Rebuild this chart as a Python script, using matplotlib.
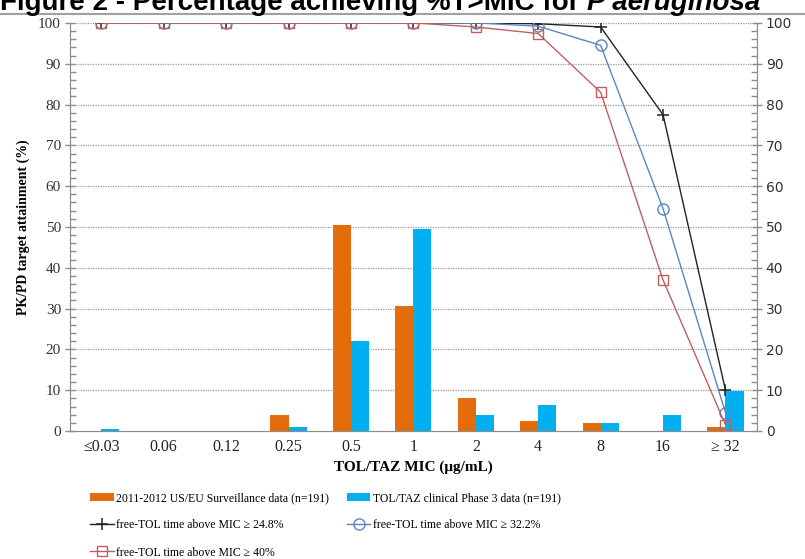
import matplotlib
matplotlib.use("Agg")
import matplotlib.pyplot as plt
from matplotlib.ticker import MultipleLocator, FixedLocator
import numpy as np

# MIC categories (ug/mL)
mic_labels = ["\u22640.03", "0.06", "0.12", "0.25", "0.5", "1", "2", "4", "8", "16", "\u2265 32"]

# distribution of pathogens (%)
surveillance = [0, 0, 0, 4, 50.6, 30.6, 8.2, 2.5, 2.0, 0, 1.0]
phase3 = [0.5, 0, 0, 1.0, 22.0, 49.6, 4.0, 6.3, 2.0, 4.0, 9.7]

# PK/PD target attainment (%)
tam_248 = [100, 100, 100, 100, 100, 100, 100, 99.8, 99.0, 77.5, 10.0]
tam_322 = [100, 100, 100, 100, 100, 100, 100, 99.2, 94.5, 54.5, 4.5]
tam_40 = [100, 100, 100, 100, 100, 100, 99.0, 97.4, 83.0, 37.0, 1.5]

serif = "Liberation Serif"
grey = "#8c8c8c"

fig = plt.figure(figsize=(8.05, 5.59), dpi=100)
ax = fig.add_axes([0.087, 0.229, 0.853, 0.730])
ax2 = ax.twinx()

x = np.arange(len(mic_labels))
w = 0.29
b1 = ax.bar(x - w / 2, surveillance, w, color="#E46C0A", zorder=2,
            label="2011-2012 US/EU Surveillance data (n=191)")
b2 = ax.bar(x + w / 2, phase3, w, color="#00B0F0", zorder=2,
            label="TOL/TAZ clinical Phase 3 data (n=191)")

l1, = ax.plot(x, tam_248, color="#222222", lw=1.0, marker="+", ms=8, mew=1.1,
              zorder=4, label="free-TOL time above MIC \u2265 24.8%")
l2, = ax.plot(x, tam_322, color="#5b86c4", lw=1.0, marker="o", ms=8, mfc="none",
              mew=1.0, zorder=4, label="free-TOL time above MIC \u2265 32.2%")
l3, = ax.plot(x, tam_40, color="#c0605d", lw=1.0, marker="s", ms=7, mfc="none",
              mew=1.0, zorder=4, label="free-TOL time above MIC \u2265 40%")

for a in (ax, ax2):
    a.set_ylim(0, 100)
    a.set_xlim(-0.5, 10.5)
    a.yaxis.set_major_locator(MultipleLocator(10))
    a.yaxis.set_minor_locator(MultipleLocator(2))
    a.tick_params(axis="y", which="major", direction="inout", length=7, color=grey, width=1)
    a.tick_params(axis="y", which="minor", direction="in", length=4, color=grey, width=1)
    for s in a.spines.values():
        s.set_color(grey)
    a.spines["top"].set_visible(False)

ax.tick_params(axis="y", labelsize=11, labelcolor="#333333", pad=3)
for t in ax.get_yticklabels():
    t.set_fontfamily(serif)
ax2.tick_params(axis="y", labelsize=10, labelcolor="#333333", pad=3)

for yv in range(10, 101, 10):
    ax.axhline(yv, color="#999999", lw=0.9, ls=(0, (1, 1)), zorder=1)

ax.xaxis.set_major_locator(FixedLocator(np.arange(-0.5, 11, 1)))
ax.xaxis.set_minor_locator(FixedLocator(x))
ax.set_xticklabels([""] * 12)
ax.set_xticklabels(mic_labels, minor=True, fontfamily=serif, fontsize=11.5, color="#222222")
ax.tick_params(axis="x", which="major", direction="out", length=5, color=grey, width=1)
ax.tick_params(axis="x", which="minor", length=0, pad=6)
ax2.set_xticks([])

ax.set_xlabel("TOL/TAZ MIC (\u03bcg/mL)", fontfamily=serif, fontweight="bold", fontsize=11, labelpad=4)
ax.set_ylabel("PK/PD target attainment (%)", fontfamily=serif, fontweight="bold", fontsize=10, labelpad=6)
ax2.set_ylabel("Distribution of pathogens (%)", fontfamily=serif, fontweight="bold", fontsize=10,
               rotation=90, labelpad=18)

# title, mostly cut off at the top edge
title = fig.text(0.0, 0.983, "Figure 2 - Percentage achieving %T>MIC for ", fontfamily="Liberation Sans",
                 fontweight="bold", fontsize=20, va="baseline", ha="left")
fig.canvas.draw()
bb = title.get_window_extent()
fig.text(bb.x1 / fig.bbox.width, 0.983, "P aeruginosa", fontfamily="Liberation Sans",
         fontweight="bold", fontstyle="italic", fontsize=20, va="baseline", ha="left")
fig.add_artist(plt.Line2D([0, 1], [0.975, 0.975], color="#a0a0a0", lw=1.5, transform=fig.transFigure))

# column-first fill: left column then right column
handles = [b1, l1, l3, b2, l2]
leg = fig.legend(handles, [h.get_label() for h in handles],
                 loc="upper left", bbox_to_anchor=(0.112, 0.12), ncol=2, frameon=False,
                 prop={"family": serif, "size": 8.5}, handlelength=2.0, handletextpad=0.2,
                 columnspacing=1.5, labelspacing=1.3, borderpad=0, borderaxespad=0)

fig.savefig("out.png", dpi=100)
